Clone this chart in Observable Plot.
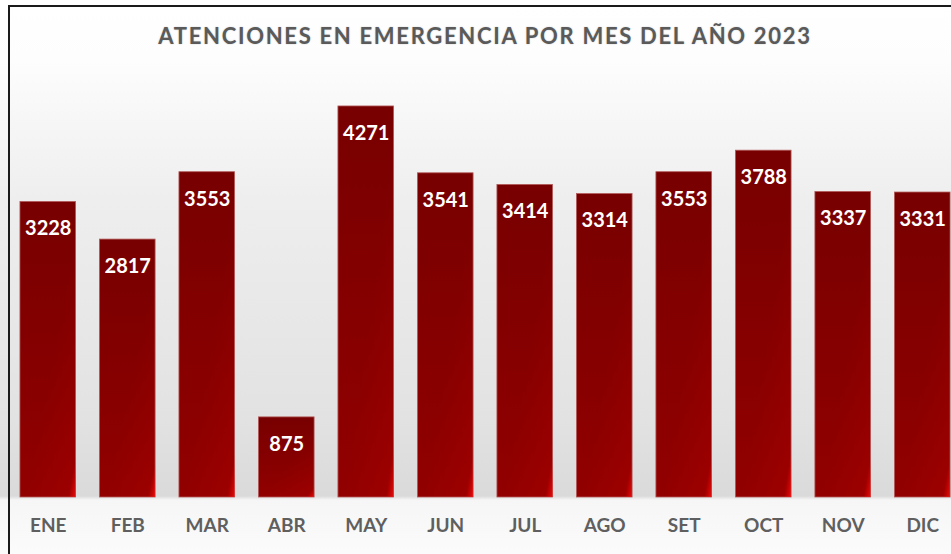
<!DOCTYPE html>
<html>
<head>
<meta charset="utf-8">
<script src="https://cdn.jsdelivr.net/npm/d3@7"></script>
<script src="https://cdn.jsdelivr.net/npm/@observablehq/plot@0.6"></script>
<style>
  html, body { margin: 0; padding: 0; overflow: hidden; background: #fff; }
  #wrap {
    position: relative; width: 951px; height: 554px; overflow: hidden;
    background: linear-gradient(to bottom, #ffffff 0px, #fdfdfd 60px, #eeeeee 200px, #e2e2e2 420px, #dadada 496px, #f6f6f6 500px, #fbfbfb 554px);
  }
  #bl { position: absolute; left: 8px; top: 5px; width: 2px; height: 560px; background: #1a1a1a; }
  #bt { position: absolute; left: 8px; top: 5px; width: 960px; height: 2px; background: #1a1a1a; }
  #title {
    position: absolute; left: 0; top: 21px; width: 970px; text-align: center;
    font-family: Lato, sans-serif; font-weight: bold; font-size: 22px; letter-spacing: 1.7px; color: #5a5a5a;
    line-height: 30px; text-shadow: 0 0 1.5px rgba(0,0,0,0.25);
  }
  #chart { position: absolute; left: 0; top: 60px; }
</style>
</head>
<body>
<div id="wrap">
  <div id="bl"></div><div id="bt"></div>
  <div id="title">ATENCIONES EN EMERGENCIA POR MES DEL AÑO 2023</div>
  <div id="chart"></div>
</div>
<script>
const months = ["ENE","FEB","MAR","ABR","MAY","JUN","JUL","AGO","SET","OCT","NOV","DIC"];
const values = [3228, 2817, 3553, 875, 4271, 3541, 3414, 3314, 3553, 3788, 3337, 3331];

const data = months.map((m, i) => ({month: m, value: values[i]}));

const plot = Plot.plot({
  width: 951,
  height: 494,
  marginTop: 25,
  marginBottom: 57,
  marginLeft: 12,
  marginRight: -7,
  style: {background: "transparent", overflow: "hidden"},
  x: {domain: months, paddingInner: 0.3, paddingOuter: 0.1, round: false, label: null},
  y: {domain: [0, 4500], axis: null},
  marks: [
    Plot.barY(data, {x: "month", y: "value", fill: "url(#barGrad)", stroke: "#b35a5a", strokeWidth: 0.8}),
    Plot.barY(data, {x: "month", y: "value", fill: "url(#barHl)"}),
    Plot.text(data, {x: "month", y: "value", text: d => String(d.value), dy: 27,
      fill: "white", fontSize: 20, fontWeight: "bold", fontFamily: "Lato, sans-serif"}),
    Plot.axisX({tickSize: 0, tickPadding: 21, fontSize: 19, fontWeight: "bold",
      fontFamily: "Lato, sans-serif", color: "#5f5f5f", label: null})
  ]
});

const svg = d3.select(plot);
const defs = svg.insert("defs", ":first-child");
const g1 = defs.append("linearGradient").attr("id", "barGrad")
  .attr("x1", 0).attr("y1", 0).attr("x2", 0).attr("y2", 1);
g1.append("stop").attr("offset", "0%").attr("stop-color", "#780000");
g1.append("stop").attr("offset", "100%").attr("stop-color", "#920000");
const g2 = defs.append("linearGradient").attr("id", "barHl")
  .attr("x1", 0.55).attr("y1", 0.55).attr("x2", 1).attr("y2", 1);
g2.append("stop").attr("offset", "0%").attr("stop-color", "#ff0000").attr("stop-opacity", 0);
g2.append("stop").attr("offset", "85%").attr("stop-color", "#ff0000").attr("stop-opacity", 0.1);
g2.append("stop").attr("offset", "100%").attr("stop-color", "#ff1010").attr("stop-opacity", 0.8);
svg.selectAll("text").attr("font-weight", "bold");

document.getElementById("chart").appendChild(plot);
</script>
</body>
</html>
